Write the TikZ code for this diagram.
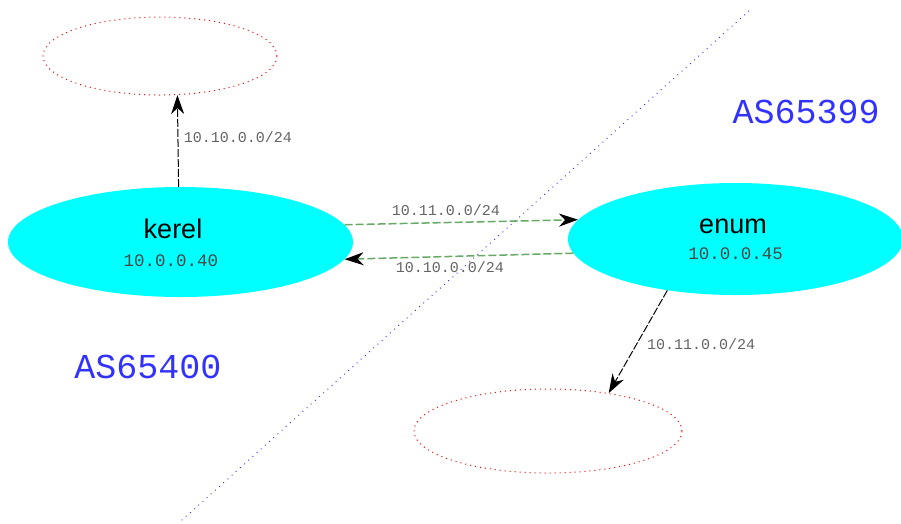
\documentclass[tikz,border=0pt]{standalone}
\usepackage{fontspec}
\setmainfont{Liberation Sans}
\newfontfamily\monofont{Liberation Mono}
\usetikzlibrary{shapes.geometric,arrows.meta}
\definecolor{nodecyan}{RGB}{0,255,255}
\definecolor{edgegreen}{RGB}{100,170,100}
\definecolor{asblue}{RGB}{50,50,255}
\definecolor{ipgray}{RGB}{70,70,70}
\definecolor{labgray}{RGB}{100,100,100}
\tikzset{
  router/.style={ellipse, fill=nodecyan, draw=none, inner sep=0pt},
  peer/.style={ellipse, draw=red, line width=1pt, dash pattern=on 1pt off 4pt, inner sep=0pt},
  nameText/.style={font=\fontsize{27}{27}\selectfont, anchor=base},
  ipText/.style={font=\monofont\fontsize{17.5}{17.5}\selectfont, text=ipgray, anchor=base},
  edgeLab/.style={font=\monofont\fontsize{15}{15}\selectfont, text=labgray, anchor=base},
  asText/.style={font=\monofont\fontsize{35}{35}\selectfont, text=asblue, anchor=base},
  tip/.style={-{Stealth[length=19pt,width=13pt,inset=6pt,black]}},
  blackEdge/.style={tip, draw=black, line width=1pt, dash pattern=on 8pt off 2pt},
  greenEdge/.style={tip, draw=edgegreen, line width=1.5pt, dash pattern=on 8pt off 3pt},
}
\begin{document}
\begin{tikzpicture}[x=1pt,y=-1pt]
\useasboundingbox (0,0) rectangle (901,523);
% AS boundary
\coordinate (bA) at (182,520);
\coordinate (bB) at (750,10);
\draw[asblue, line width=1.3pt, line cap=round, dash pattern=on 0.1pt off 5.5pt] (bA) -- (bB);
% nodes
\node[router, minimum width=345pt, minimum height=110pt] (kerel) at (180.5,242) {};
\node[router, minimum width=335pt, minimum height=112pt] (enum) at (735.5,239) {};
\node[peer, minimum width=234pt, minimum height=78pt] (top) at (160,56) {};
\node[peer, minimum width=268pt, minimum height=84pt] (bot) at (548,431) {};
% texts
\node[nameText] (kname) at (173,238) {kerel};
\node[ipText] (kip) at (171,266) {10.0.0.40};
\node[nameText] (ename) at (733,233) {enum};
\node[ipText] (eip) at (735.5,259) {10.0.0.45};
\node[asText] (as1) at (806,123) {AS65399};
\node[asText] (as2) at (148,378) {AS65400};
% edges
\draw[blackEdge] (kerel.92) -- (top.-66);
\draw[greenEdge] (kerel.6.7) -- (enum.173);
\draw[greenEdge] (enum.185) -- (kerel.-6);
\draw[blackEdge] (enum.217) -- (bot.32);
% edge labels
\node[edgeLab] (l1) at (238,142) {10.10.0.0/24};
\node[edgeLab] (l2) at (446,215) {10.11.0.0/24};
\node[edgeLab] (l3) at (450,272) {10.10.0.0/24};
\node[edgeLab] (l4) at (701,349) {10.11.0.0/24};
\end{tikzpicture}
\end{document}
